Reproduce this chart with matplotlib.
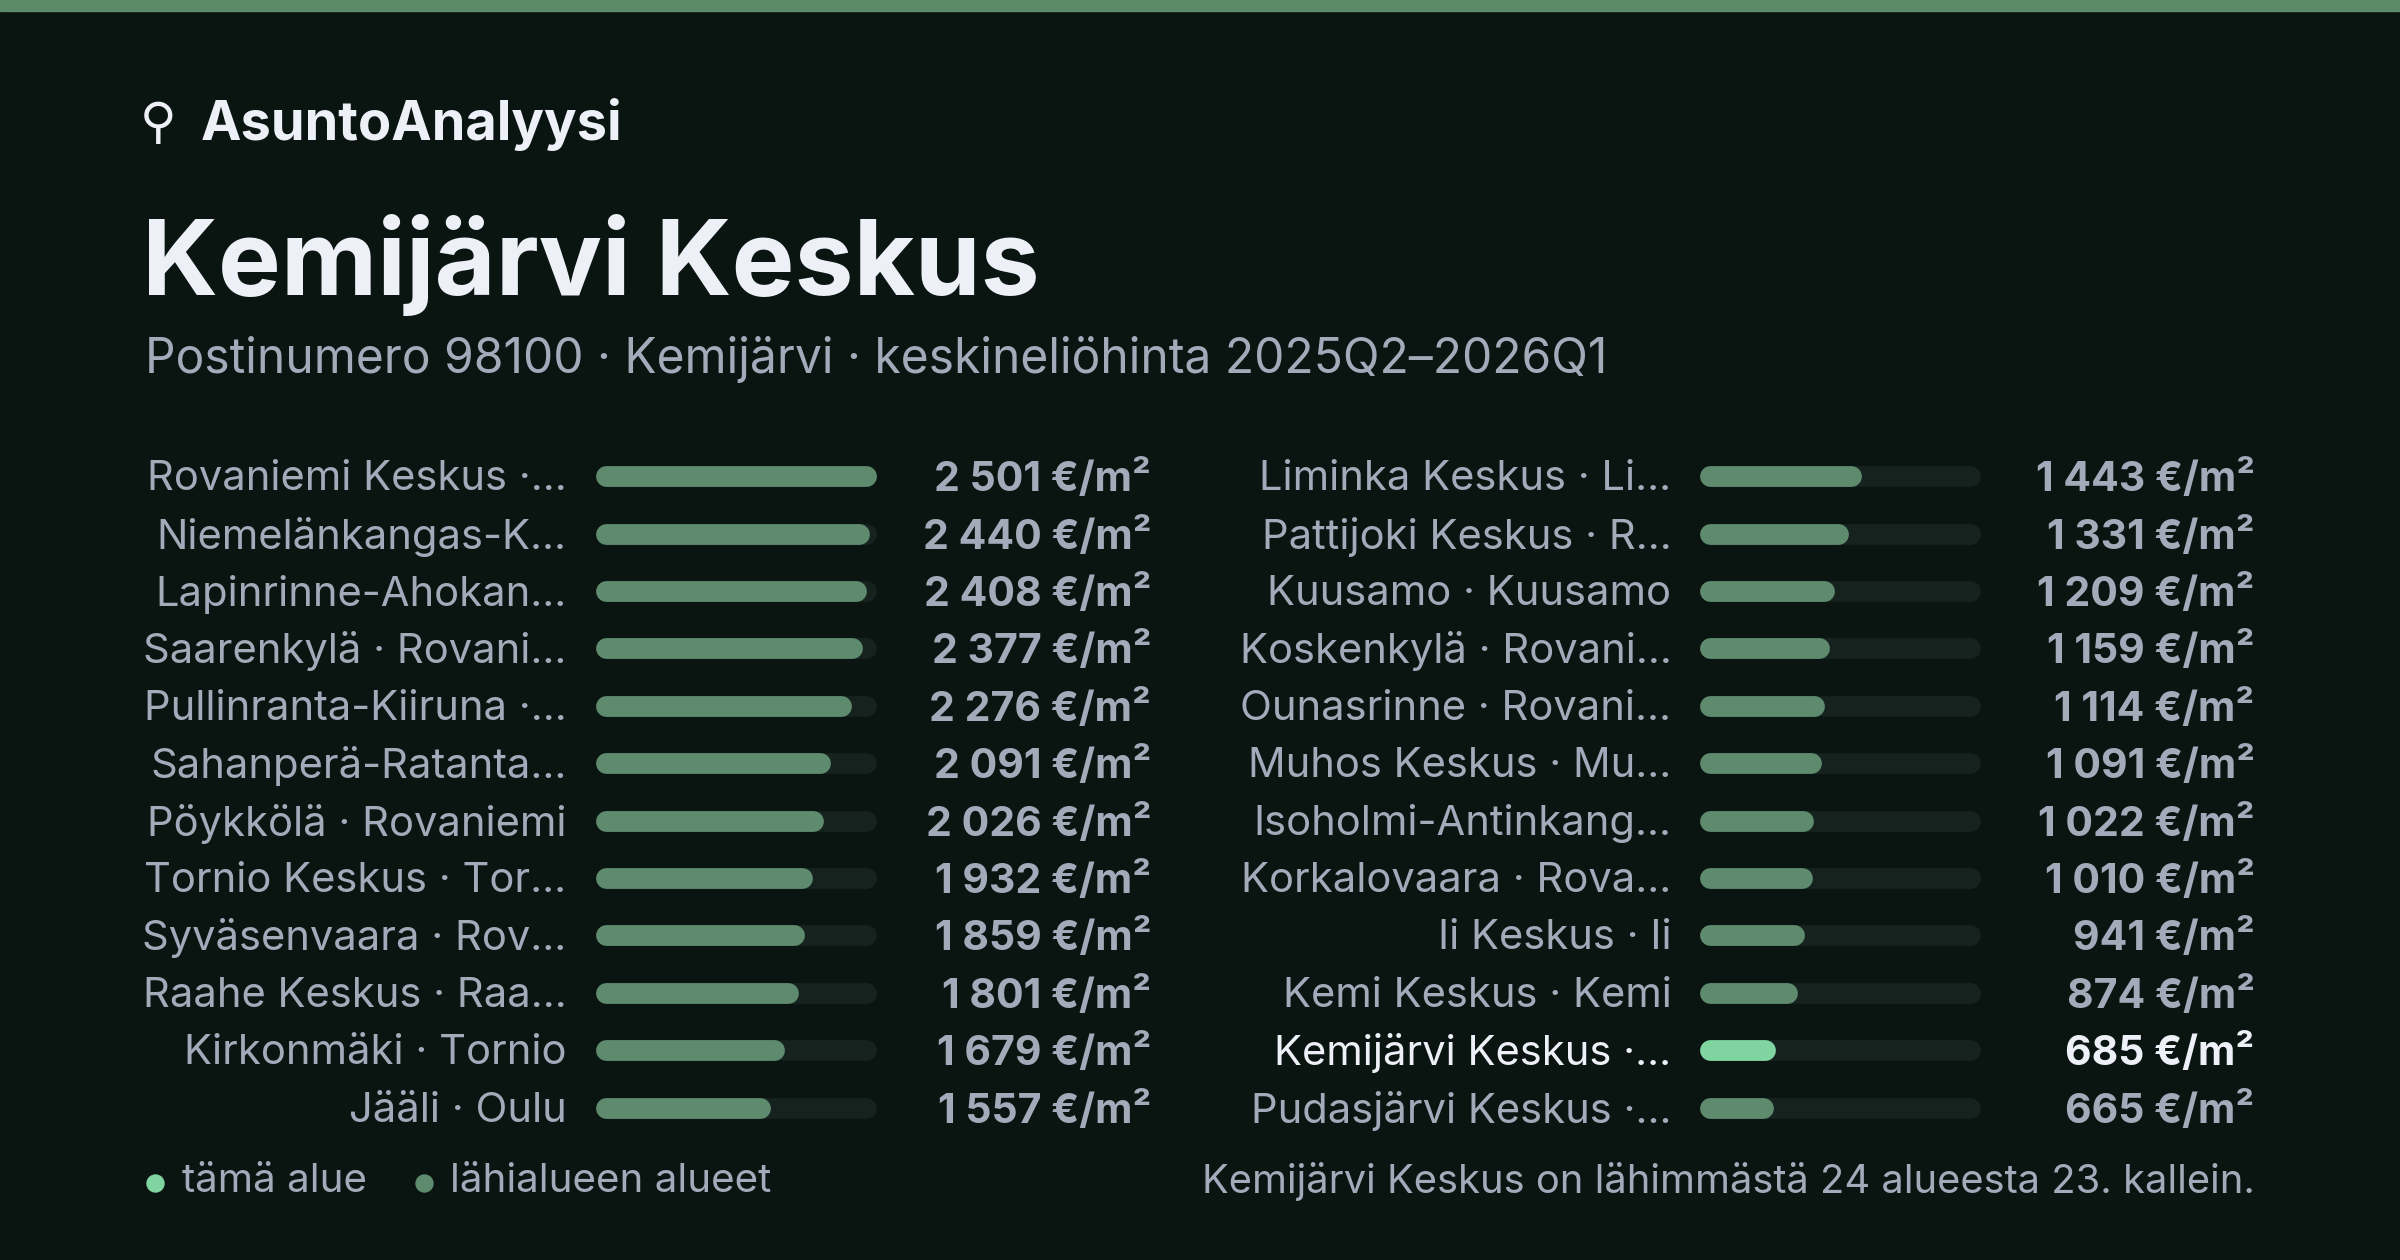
import matplotlib
matplotlib.use('Agg')
import matplotlib.pyplot as plt

# data
left_names = ['Rovaniemi Keskus ·…', 'Niemelänkangas-K…', 'Lapinrinne-Ahokan…', 'Saarenkylä · Rovani…',
              'Pullinranta-Kiiruna ·…', 'Sahanperä-Ratanta…', 'Pöykkölä · Rovaniemi', 'Tornio Keskus · Tor…',
              'Syväsenvaara · Rov…', 'Raahe Keskus · Raa…', 'Kirkonmäki · Tornio', 'Jääli · Oulu']
left_vals = [2501, 2440, 2408, 2377, 2276, 2091, 2026, 1932, 1859, 1801, 1679, 1557]
right_names = ['Liminka Keskus · Li…', 'Pattijoki Keskus · R…', 'Kuusamo · Kuusamo', 'Koskenkylä · Rovani…',
               'Ounasrinne · Rovani…', 'Muhos Keskus · Mu…', 'Isoholmi-Antinkang…', 'Korkalovaara · Rova…',
               'Ii Keskus · Ii', 'Kemi Keskus · Kemi', 'Kemijärvi Keskus ·…', 'Pudasjärvi Keskus ·…']
right_vals = [1443, 1331, 1209, 1159, 1114, 1091, 1022, 1010, 941, 874, 685, 665]
highlight = 'Kemijärvi Keskus ·…'

BG = '#0a1512'
TRACK = '#15221e'
BAR = '#5e8a6e'
HI = '#7fd4a0'
GRAY = '#a3abbb'
WHITE = '#eef0f8'
FONT = ['Inter', 'DejaVu Sans']

fig = plt.figure(figsize=(24, 12.6), dpi=100, facecolor=BG)
ax = fig.add_axes([0, 0, 1, 1])
ax.set_xlim(0, 1568)
ax.set_ylim(823, 0)
ax.axis('off')
ax.set_facecolor(BG)

ax.axhspan(0, 7, color='#5a8a68')

ax.text(91, 81, '⚲', color=WHITE, fontsize=36, va='center', ha='left', family=FONT)
ax.text(131, 81, 'AsuntoAnalyysi', color=WHITE, fontsize=39, fontweight='bold', va='center', family=FONT)
ax.text(93, 173, 'Kemijärvi Keskus', color=WHITE, fontsize=76, fontweight='bold', va='center', family=FONT)
ax.text(95, 235, 'Postinumero 98100 · Kemijärvi · keskineliöhinta 2025Q2–2026Q1', color=GRAY,
        fontsize=34.5, va='center', family=FONT)

vmax = max(left_vals)
lw = 15


def fmt(v):
    return f'{v:,}'.replace(',', ' ') + ' €/m²'


def column(names, vals, xlab, x0, x1, xval):
    for i, (n, v) in enumerate(zip(names, vals)):
        y = 311 + i * 37.5
        hi = n == highlight
        col = WHITE if hi else GRAY
        ax.text(xlab, y + 2, n, color=col, fontsize=30, ha='right', va='center', family=FONT)
        ax.plot([x0 + 7, x1 - 7], [y, y], color=TRACK, lw=lw, solid_capstyle='round')
        xe = x0 + (x1 - x0) * v / vmax
        ax.plot([x0 + 7, xe - 7], [y, y], color=HI if hi else BAR, lw=lw, solid_capstyle='round')
        ax.text(xval, y + 2, fmt(v), color=col, fontsize=29.5, fontweight='bold', ha='right', va='center',
                family=FONT)


column(left_names, left_vals, 370, 389, 573, 752)
column(right_names, right_vals, 1092, 1110, 1294, 1473)

ax.scatter([101], [773], s=150, color=HI)
ax.text(119, 772, 'tämä alue', color=GRAY, fontsize=29, va='center', family=FONT)
ax.scatter([277], [773], s=150, color=BAR)
ax.text(294, 772, 'lähialueen alueet', color=GRAY, fontsize=29, va='center', family=FONT)
ax.text(1473, 772, 'Kemijärvi Keskus on lähimmästä 24 alueesta 23. kallein.', color=GRAY, fontsize=28.7,
        ha='right', va='center', family=FONT)

fig.savefig('out.png', dpi=100, facecolor=BG)
